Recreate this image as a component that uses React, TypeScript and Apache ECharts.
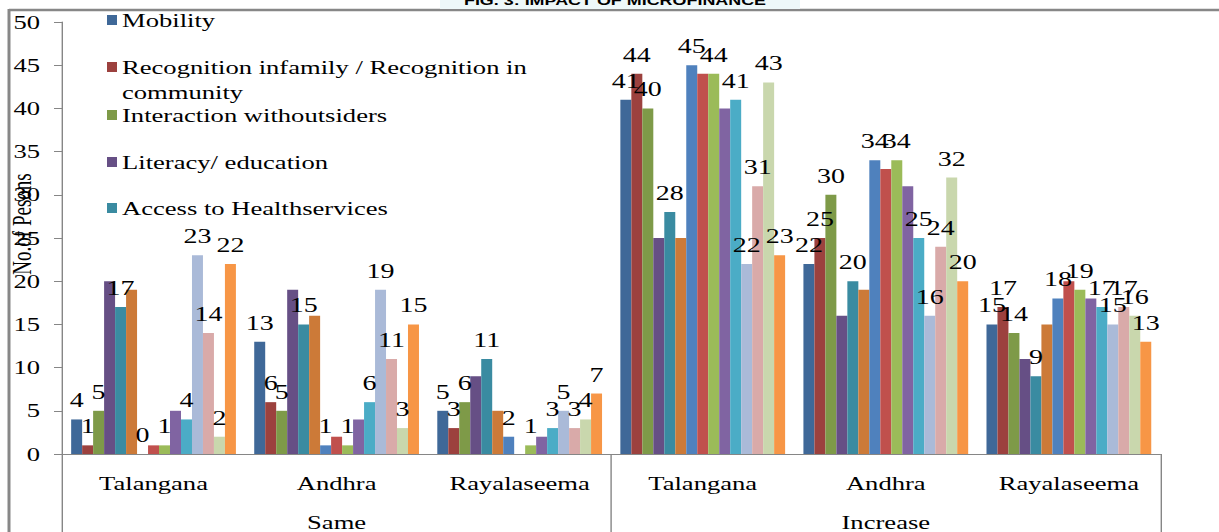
import React, { useEffect, useRef } from "react";
import * as echarts from "echarts";

// ---------- data ----------
const chartTitle = "FIG. 3: IMPACT OF MICROFINANCE";
const yAxisTitle = "No.of Pesons";
const groups = ["Same", "Increase"];
const regions = ["Talangana", "Andhra", "Rayalaseema"];

const seriesNames = [
  "Mobility",
  "Recognition infamily / Recognition in community",
  "Interaction withoutsiders",
  "Literacy/ education",
  "Access to Healthservices",
  "Indicator 6",
  "Indicator 7",
  "Indicator 8",
  "Indicator 9",
  "Indicator 10",
  "Indicator 11",
  "Indicator 12",
  "Indicator 13",
  "Indicator 14",
  "Indicator 15",
];
const legendCount = 5;

// values per series: Same (Talangana, Andhra, Rayalaseema), Increase (Talangana, Andhra, Rayalaseema)
const s1 = [4, 13, 5, 41, 22, 15];
const s2 = [1, 6, 3, 44, 25, 17];
const s3 = [5, 5, 6, 40, 30, 14];
const s4 = [20, 19, 9, 25, 16, 11];
const s5 = [17, 15, 11, 28, 20, 9];
const s6 = [19, 16, 5, 25, 19, 15];
const s7 = [0, 1, 2, 45, 34, 18];
const s8 = [1, 2, 0, 44, 33, 20];
const s9 = [1, 1, 1, 44, 34, 19];
const s10 = [5, 4, 2, 40, 31, 18];
const s11 = [4, 6, 3, 41, 25, 17];
const s12 = [23, 19, 5, 22, 16, 15];
const s13 = [14, 11, 3, 31, 24, 17];
const s14 = [2, 3, 4, 43, 32, 16];
const s15 = [22, 15, 7, 23, 20, 13];
const seriesValues = [s1, s2, s3, s4, s5, s6, s7, s8, s9, s10, s11, s12, s13, s14, s15];

// which series carry value labels in the original
const labelledSeries = [true, true, true, false, true, false, true, false, true, false, true, true, true, true, true];

const yMin = 0;
const yMax = 50;
const yInterval = 5;

// ---------- style ----------
const seriesColors = [
  "#3F6898", "#9C413E", "#7E9A48", "#664F85", "#3A8BA1", "#CC7A38",
  "#4F81BD", "#C0504D", "#9BBB59", "#8064A2", "#4BACC6",
  "#AABAD8", "#D9AAA9", "#C9D7AD", "#F79646",
];
const SX = 1.4; // horizontal stretch of the original picture
const FULL_W = 1219;
const FULL_H = 532;
const W = FULL_W / SX;
const hx = (x: number) => x / SX;
const SERIF = "Liberation Serif";
const AXIS_GRAY = "#868686";

const categoryKeys = groups.flatMap((g) => regions.map((r) => `${g}|${r}`));

export default function App() {
  const ref = useRef<HTMLDivElement>(null);

  useEffect(() => {
    if (!ref.current) return;
    const chart = echarts.init(ref.current, null, { renderer: "svg" });

    const legendItemY = [20, 67, 115, 162, 208];
    const legendGraphics: any[] = [];
    for (let i = 0; i < legendCount; i++) {
      legendGraphics.push({
        type: "rect",
        shape: { x: hx(107), y: legendItemY[i] - 5, width: hx(10), height: 10 },
        style: { fill: seriesColors[i] },
      });
      legendGraphics.push({
        type: "text",
        x: hx(122),
        y: legendItemY[i] - 12.5,
        style: {
          text: seriesNames[i],
          width: 300,
          overflow: "break",
          lineHeight: 25,
          fontSize: 19,
          fontFamily: SERIF,
          fill: "#000",
          align: "left",
          verticalAlign: "top",
        },
      });
    }

    const option: any = {
      animation: false,
      backgroundColor: "#ffffff",
      textStyle: { fontFamily: SERIF },
      grid: {
        left: hx(62),
        right: W - hx(1160),
        top: 22,
        bottom: FULL_H - 460,
        containLabel: false,
      },
      xAxis: [
        {
          type: "category",
          data: categoryKeys,
          position: "bottom",
          axisLine: { show: true, lineStyle: { color: AXIS_GRAY, width: 1 } },
          axisTick: { show: false },
          axisLabel: {
            formatter: (v: string) => v.split("|")[1],
            fontSize: 19,
            fontFamily: SERIF,
            color: "#000",
            margin: 20,
            interval: 0,
          },
          splitLine: { show: false },
        },
        {
          type: "category",
          data: groups,
          position: "bottom",
          offset: 0,
          axisLine: { show: false },
          axisTick: {
            show: true,
            length: 90,
            interval: 0,
            lineStyle: { color: AXIS_GRAY, width: 1 },
          },
          axisLabel: {
            fontSize: 19,
            fontFamily: SERIF,
            color: "#000",
            margin: 59,
            interval: 0,
          },
          splitLine: { show: false },
        },
      ],
      yAxis: {
        type: "value",
        min: yMin,
        max: yMax,
        interval: yInterval,
        axisLine: { show: true, lineStyle: { color: AXIS_GRAY, width: 1 } },
        axisTick: { show: true, length: hx(8), lineStyle: { color: AXIS_GRAY } },
        axisLabel: {
          fontSize: 19,
          fontFamily: SERIF,
          color: "#000",
          margin: hx(22),
        },
        splitLine: { show: false },
      },
      series: seriesValues.map((vals, i) => ({
        name: seriesNames[i],
        type: "bar",
        xAxisIndex: 0,
        data: vals,
        barGap: "0%",
        barCategoryGap: "10%",
        itemStyle: { color: seriesColors[i] },
        label: {
          show: labelledSeries[i],
          position: "top",
          distance: 9,
          fontSize: 20,
          fontFamily: SERIF,
          color: "#000",
        },
      })),
      graphic: [
        {
          type: "rect",
          shape: { x: hx(440), y: 0, width: hx(360), height: 9 },
          style: { fill: "#EEF8F9" },
          z: 1,
        },
        {
          type: "text",
          x: hx(615),
          y: 7,
          style: {
            text: chartTitle,
            fontSize: 12.8,
            fontWeight: "bold",
            fontFamily: "Liberation Sans",
            fill: "#000",
            align: "center",
            verticalAlign: "bottom",
          },
          z: 2,
        },
        {
          type: "line",
          shape: { x1: hx(9), y1: 10, x2: W, y2: 10 },
          style: { stroke: "#878787", lineWidth: 2.5 },
        },
        {
          type: "line",
          shape: { x1: hx(9), y1: 9, x2: hx(9), y2: FULL_H },
          style: { stroke: "#878787", lineWidth: hx(3) },
        },
        {
          type: "text",
          x: hx(22),
          y: 224,
          rotation: Math.PI / 2,
          style: {
            text: yAxisTitle,
            fontSize: 19,
            fontFamily: SERIF,
            fill: "#000",
            align: "center",
            verticalAlign: "middle",
          },
        },
        ...legendGraphics,
      ],
    };

    chart.setOption(option);
    return () => chart.dispose();
  }, []);

  return (
    <div
      style={{
        position: "fixed",
        left: 0,
        top: 0,
        width: FULL_W,
        height: FULL_H,
        overflow: "hidden",
        background: "#fff",
      }}
    >
      <div
        ref={ref}
        style={{
          width: W,
          height: FULL_H,
          transform: `scaleX(${SX})`,
          transformOrigin: "0 0",
        }}
      />
    </div>
  );
}
